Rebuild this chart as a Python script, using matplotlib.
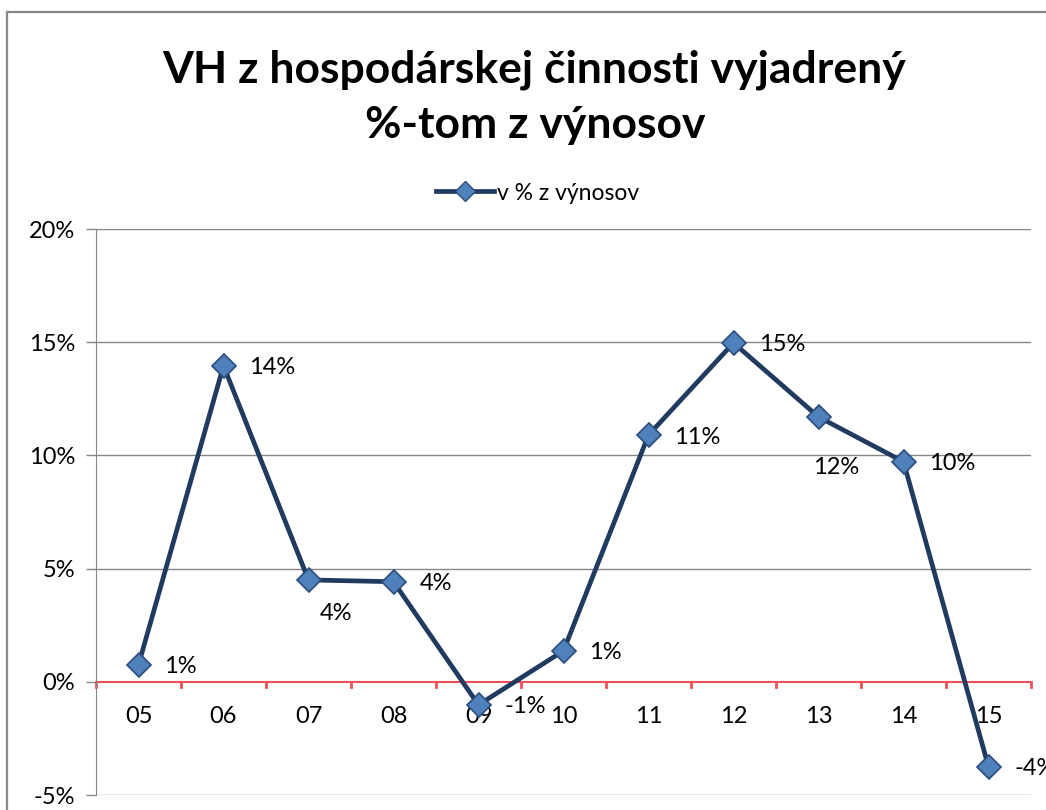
import matplotlib.pyplot as plt
from matplotlib.lines import Line2D
from matplotlib.ticker import FuncFormatter

plt.rcParams['font.family'] = ['Lato', 'DejaVu Sans']

# data
years = ["05", "06", "07", "08", "09", "10", "11", "12", "13", "14", "15"]
pct = [0.75, 13.96, 4.5, 4.42, -1.02, 1.37, 10.9, 14.97, 11.7, 9.72, -3.75]

# where each data label sits relative to its point (pixels, alignment)
label_pos = [(26, -2, "left"), (26, -2, "left"), (28, -34, "center"), (26, -2, "left"),
             (26, -2, "left"), (26, -2, "left"), (26, -2, "left"), (26, -2, "left"),
             (18, -51, "center"), (26, -2, "left"), (26, -2, "left")]

W, H = 1046, 810
fig = plt.figure(figsize=(W / 100, H / 100), dpi=100)
ax = fig.add_axes([96 / W, 15 / H, (1031 - 96) / W, (795 - 229) / H])

line_col = "#203A60"
mark_col = "#4F81BD"

x = list(range(len(years)))
ax.plot(x, pct, color=line_col, lw=3.4, marker="D", ms=12,
        markerfacecolor=mark_col, markeredgecolor="#2C4D7A", markeredgewidth=1.2,
        zorder=5, clip_on=False)

for xi, v, (dx, dy, ha) in zip(x, pct, label_pos):
    ax.annotate(f"{round(v):.0f}%", (xi, v), xytext=(dx, dy), textcoords="offset pixels",
                ha=ha, va="center", fontsize=17, color="black",
                annotation_clip=False, zorder=6)

ax.set_xlim(-0.5, len(years) - 0.5)
ax.set_ylim(-5, 20)
ax.set_yticks([-5, 0, 5, 10, 15, 20])
ax.yaxis.set_major_formatter(FuncFormatter(lambda v, p: f"{v:.0f}%"))
ax.tick_params(axis="y", labelsize=17, length=7, color="#868686", pad=8, width=1)

# category labels sit below the zero line
ax.set_xticks([])
for xi, lab in zip(x, years):
    ax.text(xi, -1.55, lab, ha="center", va="center", fontsize=17)

# gridlines
for g in [-5, 5, 10, 15, 20]:
    ax.axhline(g, color="#868686", lw=1, zorder=1)
ax.axhline(0, color="#F0505A", lw=1.5, zorder=2)
for b in range(len(years) + 1):
    ax.plot([b - 0.5, b - 0.5], [0, -0.25], color="#F0505A", lw=2, zorder=2,
            clip_on=False)

for s in ["top", "right", "bottom"]:
    ax.spines[s].set_visible(False)
ax.spines["left"].set_color("#868686")

fig.text(0.511, 1 - 70 / H, "VH z hospodárskej činnosti vyjadrený",
         ha="center", va="center", fontsize=32, fontweight="bold")
fig.text(0.512, 1 - 125 / H, "%-tom z výnosov",
         ha="center", va="center", fontsize=32, fontweight="bold")

handle = Line2D([], [], color=line_col, lw=3.4, marker="D", ms=10,
                markerfacecolor=mark_col, markeredgecolor="#2C4D7A")
fig.legend([handle], ["v % z výnosov"], loc="center", bbox_to_anchor=(0.514, 1 - 193 / H),
           frameon=False, fontsize=16.5, handlelength=2.5, handletextpad=0.15)

# outer chart border (left and top)
fig.add_artist(Line2D([7 / W, 7 / W], [0, 1 - 12 / H], color="#888888", lw=1.6))
fig.add_artist(Line2D([7 / W, 1], [1 - 12 / H, 1 - 12 / H], color="#888888", lw=1.6))

fig.savefig("out.png", dpi=100)
